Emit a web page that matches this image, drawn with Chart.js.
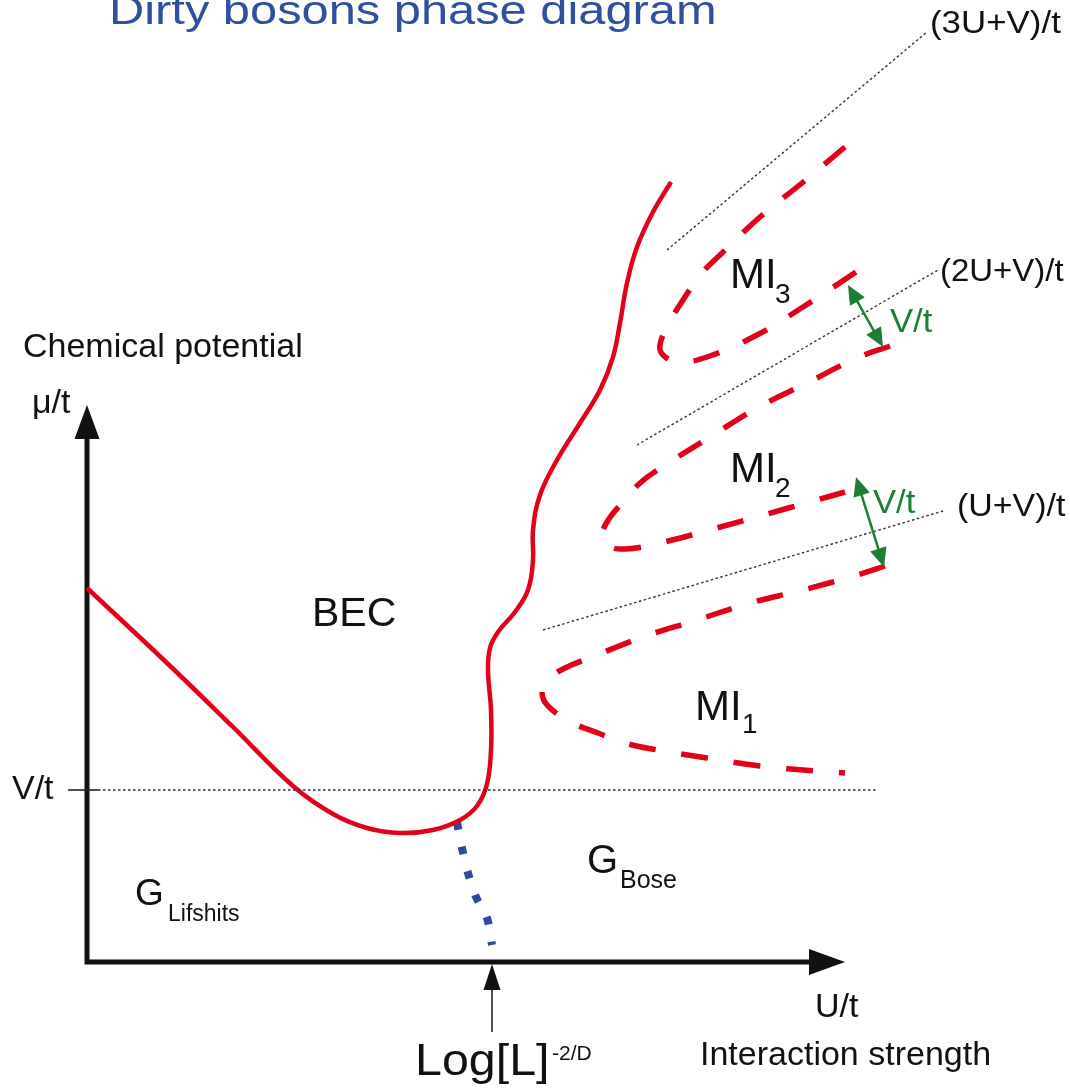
<!DOCTYPE html>
<html><head><meta charset="utf-8">
<script src="https://cdn.jsdelivr.net/npm/chart.js@4.4.1/dist/chart.umd.min.js"></script>
<style>html,body{margin:0;padding:0;background:#fff;overflow:hidden}canvas{display:block}</style>
</head><body><canvas id="c" width="1070" height="1088"></canvas>
<script>
// ---- data (U/t on x, mu/t on y; arbitrary diagram units) ----
const becU  = [0.00,0.80,1.46,2.06,2.46,2.80,3.13,3.46,3.73,3.90,4.00,4.04,4.04,4.01,4.03,4.11,4.28,4.41,4.46,4.46,4.53,4.70,4.93,5.13,5.26,5.33,5.40,5.50,5.66,5.84];
const becMu = [3.74,2.99,2.35,1.76,1.48,1.34,1.29,1.32,1.42,1.56,1.78,2.12,2.52,2.92,3.14,3.30,3.50,3.72,4.02,4.32,4.67,5.02,5.39,5.72,6.05,6.39,6.79,7.15,7.50,7.80];

const glassU  = [3.70,3.75,3.81,3.89,4.00,4.05];
const glassMu = [1.40,1.14,0.89,0.65,0.44,0.17];

const mi1U  = [7.98,7.70,7.16,6.63,6.10,5.56,5.05,4.76,4.61,4.55,4.61,4.86,5.11,5.38,5.65,6.20,6.73,7.28,7.58];
const mi1Mu = [3.96,3.87,3.72,3.59,3.42,3.25,3.05,2.93,2.82,2.70,2.56,2.39,2.29,2.19,2.13,2.04,1.96,1.91,1.89];

const mi2U  = [8.03,7.70,7.20,6.70,6.23,5.75,5.53,5.35,5.20,5.15,5.21,5.38,5.73,6.26,6.80,7.30,7.58];
const mi2Mu = [6.16,6.04,5.79,5.54,5.25,4.95,4.79,4.59,4.40,4.25,4.16,4.13,4.19,4.33,4.48,4.62,4.70];

const mi3U  = [7.58,7.15,6.73,6.33,6.15,5.96,5.81,5.73,5.76,5.91,6.20,6.70,7.16,7.63,7.86];
const mi3Mu = [8.15,7.79,7.45,7.07,6.89,6.62,6.37,6.17,6.07,6.00,6.05,6.27,6.55,6.86,7.02];

const guide3U = [5.80,8.40], guide3Mu = [7.12,9.30];
const guide2U = [5.50,8.51], guide2Mu = [5.17,6.92];
const guide1U = [4.56,8.56], guide1Mu = [3.32,4.51];
const vtLineU = [0.11,7.91], vtLineMu = [1.72,1.72];
const vtTickU = [-0.19,0.12], vtTickMu = [1.72,1.72];

const axisU  = [0, 0, 7.30];
const axisMu = [5.30, 0, 0];
const axisTipsU  = [0, 7.58];
const axisTipsMu = [5.57, 0];

const logArrowU  = [4.05, 4.05];
const logArrowMu = [-0.70, -0.02];

const vArrow1U = [7.61, 7.96], vArrow1Mu = [6.77, 6.15];
const vArrow2U = [7.69, 7.97], vArrow2Mu = [4.85, 3.95];

const RED = '#e2001a', GREEN = '#1d7f34', BLUE = '#2c4c9e', BLACK = '#111';
const FONT = '"Liberation Sans", Arial, Helvetica, sans-serif';

const textLabels = [
  {t:'Dirty bosons phase diagram', u:0.22, m:9.38, size:40, color:'#2f4f9f', sx:1.22},
  {t:'(3U+V)/t', u:8.43, m:9.29, size:32, sx:1.09},
  {t:'(2U+V)/t', u:8.53, m:6.81, size:32, sx:1.03},
  {t:'(U+V)/t', u:8.70, m:4.46, size:32, sx:1.06},
  {t:'Chemical potential', u:-0.64, m:6.05, size:34},
  {t:'μ/t', u:-0.55, m:5.49, size:34},
  {t:'V/t', u:-0.75, m:1.63, size:34},
  {t:'BEC', u:2.25, m:3.36, size:41},
  {t:'G', u:0.48, m:0.57, size:37}, {t:'Lifshits', u:0.81, m:0.41, size:23},
  {t:'G', u:5.00, m:0.89, size:40}, {t:'Bose', u:5.33, m:0.74, size:25},
  {t:'MI', u:6.08, m:2.42, size:42}, {t:'1', u:6.55, m:2.29, size:28},
  {t:'MI', u:6.43, m:4.80, size:42}, {t:'2', u:6.88, m:4.65, size:28},
  {t:'MI', u:6.43, m:6.74, size:42}, {t:'3', u:6.88, m:6.59, size:28},
  {t:'V/t', u:8.03, m:6.30, size:33, color:GREEN, sx:1.05},
  {t:'V/t', u:7.86, m:4.49, size:33, color:GREEN, sx:1.05},
  {t:'Log[L]', u:3.28, m:-1.13, size:44, sx:1.1},
  {t:'-2/D', u:4.65, m:-0.98, size:21},
  {t:'U/t', u:7.28, m:-0.55, size:34},
  {t:'Interaction strength', u:6.13, m:-1.03, size:34}
];

// ---- helpers ----
const pts = (xs, ys) => xs.map((x, i) => ({x, y: ys[i]}));
function line(xs, ys, color, width, extra) {
  return Object.assign({data: pts(xs, ys), showLine: true, borderColor: color, borderWidth: width,
    pointRadius: 0, pointHoverRadius: 0, fill: false, tension: 0}, extra || {});
}

function head(ctx, tx, ty, fx, fy, len, hw, color) {
  const a = Math.atan2(ty - fy, tx - fx);
  const bx = tx - len * Math.cos(a), by = ty - len * Math.sin(a);
  ctx.fillStyle = color;
  ctx.beginPath();
  ctx.moveTo(tx, ty);
  ctx.lineTo(bx + hw * Math.sin(a), by - hw * Math.cos(a));
  ctx.lineTo(bx - hw * Math.sin(a), by + hw * Math.cos(a));
  ctx.closePath();
  ctx.fill();
}

const decor = {
  id: 'decor',
  afterDatasetsDraw(chart) {
    const ctx = chart.ctx, xs = chart.scales.x, ys = chart.scales.y;
    const P = (u, m) => [xs.getPixelForValue(u), ys.getPixelForValue(m)];
    ctx.save();
    const o = P(0, 0);
    let t = P(axisTipsU[0], axisTipsMu[0]); head(ctx, t[0], t[1], o[0], o[1], 34, 12.5, BLACK);
    t = P(axisTipsU[1], axisTipsMu[1]); head(ctx, t[0], t[1], o[0], o[1], 36, 13, BLACK);
    const la = P(logArrowU[0], logArrowMu[0]), lb = P(logArrowU[1], logArrowMu[1]);
    head(ctx, lb[0], lb[1], la[0], la[1], 26, 8.5, BLACK);
    [[vArrow1U, vArrow1Mu], [vArrow2U, vArrow2Mu]].forEach(([au, am]) => {
      const a = P(au[0], am[0]), b = P(au[1], am[1]);
      const ang = Math.atan2(b[1] - a[1], b[0] - a[0]);
      const L = 16;
      ctx.strokeStyle = GREEN; ctx.lineWidth = 2.5;
      ctx.beginPath();
      ctx.moveTo(a[0] + L * Math.cos(ang), a[1] + L * Math.sin(ang));
      ctx.lineTo(b[0] - L * Math.cos(ang), b[1] - L * Math.sin(ang));
      ctx.stroke();
      head(ctx, a[0], a[1], b[0], b[1], 19, 8.5, GREEN);
      head(ctx, b[0], b[1], a[0], a[1], 19, 8.5, GREEN);
    });
    ctx.textBaseline = 'alphabetic';
    ctx.textAlign = 'left';
    textLabels.forEach(l => {
      const p = P(l.u, l.m);
      ctx.font = l.size + 'px ' + FONT;
      ctx.fillStyle = l.color || BLACK;
      ctx.save();
      ctx.translate(p[0], p[1]);
      if (l.sx) ctx.scale(l.sx, 1);
      ctx.fillText(l.t, 0, 0);
      ctx.restore();
    });
    ctx.restore();
  }
};

const dashRed = {borderDash: [27, 26], borderCapStyle: 'butt', tension: 0.4};

new Chart(document.getElementById('c'), {
  type: 'scatter',
  data: {
    datasets: [
      line(vtLineU, vtLineMu, '#333', 1.4, {borderDash: [2.5, 2.5]}),
      line(vtTickU, vtTickMu, '#222', 1.6),
      line(guide3U, guide3Mu, '#333', 1.4, {borderDash: [2.5, 2.5]}),
      line(guide2U, guide2Mu, '#333', 1.4, {borderDash: [2.5, 2.5]}),
      line(guide1U, guide1Mu, '#333', 1.4, {borderDash: [2.5, 2.5]}),
      line(becU, becMu, RED, 4.5, {tension: 0.4, borderCapStyle: 'butt'}),
      line(glassU, glassMu, BLUE, 8, {tension: 0.3, borderDash: [8, 17]}),
      line(mi1U, mi1Mu, RED, 5.5, dashRed),
      line(mi2U, mi2Mu, RED, 5.5, dashRed),
      line(mi3U, mi3Mu, RED, 5.5, dashRed),
      line(axisU, axisMu, BLACK, 5, {borderJoinStyle: 'miter', borderCapStyle: 'butt'}),
      line(logArrowU, [logArrowMu[0], logArrowMu[1] - 0.2], '#222', 1.6)
    ]
  },
  options: {
    responsive: false,
    animation: false,
    devicePixelRatio: 1,
    layout: {padding: 0},
    plugins: {legend: {display: false}, tooltip: {enabled: false}, title: {display: false}},
    scales: {
      x: {type: 'linear', min: -0.87, max: 9.83, display: false},
      y: {type: 'linear', min: -1.26, max: 9.62, display: false}
    },
    elements: {line: {capBezierPoints: false}}
  },
  plugins: [decor]
});
</script>
</body></html>
